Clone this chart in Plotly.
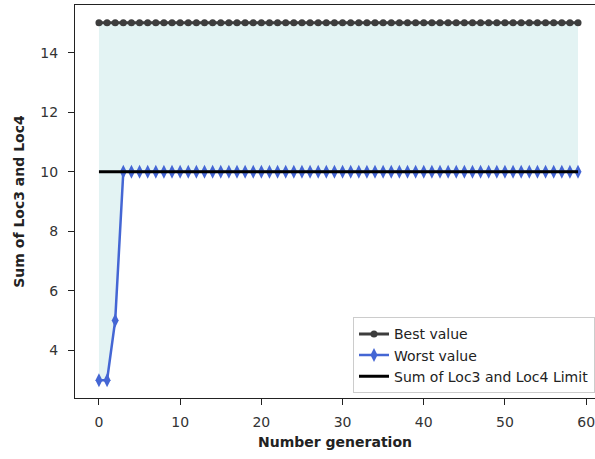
import plotly.graph_objects as go

# Generation index and the per-generation results
generations = list(range(60))
best_values = [15] * 60
worst_values = [3, 3, 5] + [10] * 57
limit_values = [10] * 60

FONT = "DejaVu Sans"
FS = 14

fig = go.Figure()

# Shaded band between worst and best values
fig.add_trace(go.Scatter(
    x=generations, y=worst_values, mode="lines",
    line=dict(width=0), showlegend=False, hoverinfo="skip",
))
fig.add_trace(go.Scatter(
    x=generations, y=best_values, mode="lines",
    line=dict(width=0), fill="tonexty", fillcolor="#e3f3f3",
    showlegend=False, hoverinfo="skip",
))

fig.add_trace(go.Scatter(
    x=generations, y=best_values, mode="lines+markers", name="Best value",
    line=dict(color="#3d3d3d", width=3),
    marker=dict(symbol="circle", size=7, color="#3d3d3d"),
))
fig.add_trace(go.Scatter(
    x=generations, y=worst_values, mode="lines+markers", name="Worst value",
    line=dict(color="#4466d4", width=2.5),
    marker=dict(symbol="diamond-tall", size=10, color="#4466d4"),
))
fig.add_trace(go.Scatter(
    x=generations, y=limit_values, mode="lines", name="Sum of Loc3 and Loc4 Limit",
    line=dict(color="black", width=3),
))

axis_common = dict(
    showgrid=False, zeroline=False, showline=True, linecolor="#222", linewidth=1.2,
    ticks="outside", ticklen=6, tickwidth=1.2, tickcolor="#222",
    tickfont=dict(family=FONT, size=FS, color="#333"),
    ticklabeloverflow="allow",
)

fig.update_layout(
    width=595, height=459,
    margin=dict(l=75, r=0, t=5, b=61),
    paper_bgcolor="white", plot_bgcolor="white",
    font=dict(family=FONT, size=FS, color="#222"),
    xaxis=dict(
        range=[-2.95, 61.09], tickvals=[0, 10, 20, 30, 40, 50, 60], mirror=True,
        ticklabelstandoff=5,
        title=dict(text="<b>Number generation</b>", font=dict(family=FONT, size=FS, color="#222"), standoff=8),
        **axis_common,
    ),
    yaxis=dict(
        range=[2.4, 15.6], tickvals=[4, 6, 8, 10, 12, 14],
        ticklabelstandoff=7,
        title=dict(text="<b>Sum of Loc3 and Loc4</b>", font=dict(family=FONT, size=FS, color="#222"), standoff=12),
        **axis_common,
    ),
    legend=dict(
        x=1.0, y=0.012, xanchor="right", yanchor="bottom",
        bgcolor="rgba(255,255,255,0.85)", bordercolor="#cccccc", borderwidth=1,
        font=dict(family=FONT, size=FS, color="#222"),
        tracegroupgap=0, itemwidth=30, traceorder="normal",
    ),
)

fig.write_html("out.html")
